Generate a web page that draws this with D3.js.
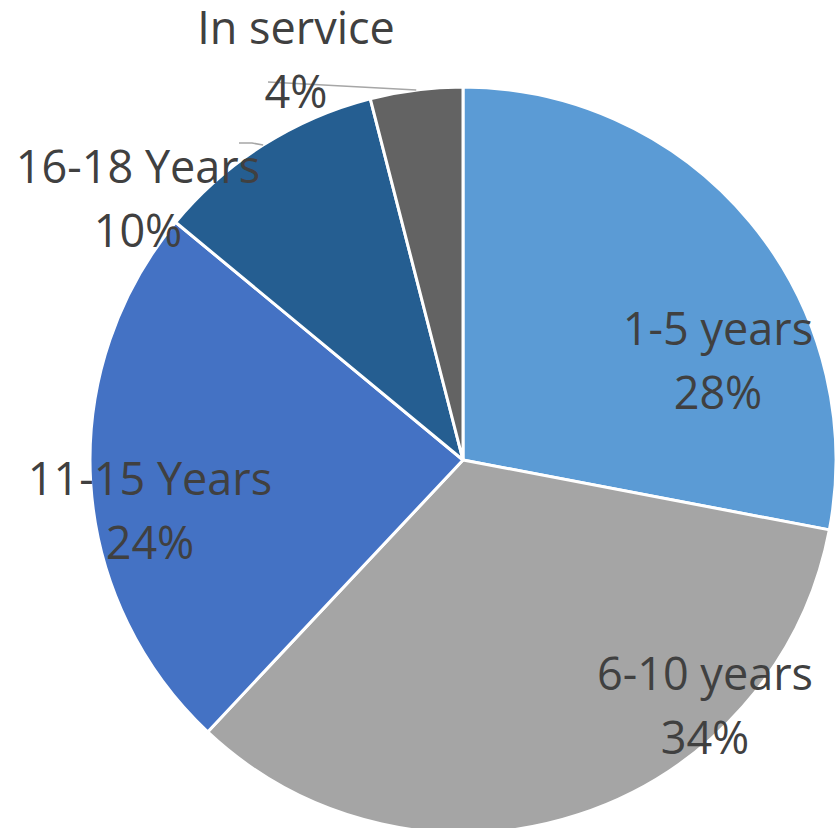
<!DOCTYPE html>
<html>
<head>
<meta charset="utf-8">
<script src="https://cdn.jsdelivr.net/npm/d3@7"></script>
<style>
  body { margin: 0; background: #fff; }
  text { font-family: "Open Sans", sans-serif; fill: #404040; }
</style>
</head>
<body>
<svg width="837" height="828"></svg>
<script>
// chart data
var categories = ["1-5 years", "6-10 years", "11-15 Years", "16-18 Years", "In service"];
var values = [28, 34, 24, 10, 4];
var colors = ["#5b9bd5", "#a5a5a5", "#4472c4", "#255e91", "#636363"];

// label layout (center x, first baseline y)
var labelPos = [[718, 345], [705, 690], [150, 495], [138, 183], [296, 44]];

function main(){
    var svg = d3.select("svg"),
        cx = 463, cy = 460, radius = 373;

    var data = categories.map(function(c, i){ return {name: c, value: values[i], color: colors[i]}; });

    var pie = d3.pie().sort(null).value(function(d){ return d.value; });
    var arc = d3.arc().innerRadius(0).outerRadius(radius);
    var arcs = pie(data);

    var g = svg.append("g").attr("transform", "translate(" + cx + "," + cy + ")");

    g.selectAll(".slice")
        .data(arcs)
        .enter()
        .append("path")
        .attr("class", "slice")
        .attr("d", arc)
        .attr("fill", function(d){ return d.data.color; })
        .attr("stroke", "#fff")
        .attr("stroke-width", 3)
        .attr("stroke-linejoin", "round");

    // leader lines for the two small slices
    function edgePoint(a){
        var m = (a.startAngle + a.endAngle) / 2;
        return [cx + radius * Math.sin(m), cy - radius * Math.cos(m)];
    }
    var leaders = [
        {idx: 4, pts: [[268, 82]]},
        {idx: 3, pts: [[239, 143], [252, 143]]}
    ];
    leaders.forEach(function(l){
        var p = l.pts.concat([edgePoint(arcs[l.idx])]);
        svg.append("polyline")
            .attr("points", p.map(function(q){ return q.join(","); }).join(" "))
            .attr("fill", "none")
            .attr("stroke", "#a6a6a6")
            .attr("stroke-width", 1.5);
    });

    var labels = svg.selectAll(".label")
        .data(arcs)
        .enter()
        .append("text")
        .attr("class", "label")
        .attr("text-anchor", "middle")
        .attr("font-size", "45px");

    labels.append("tspan")
        .attr("x", function(d, i){ return labelPos[i][0]; })
        .attr("y", function(d, i){ return labelPos[i][1]; })
        .text(function(d){ return d.data.name; });

    labels.append("tspan")
        .attr("x", function(d, i){ return labelPos[i][0]; })
        .attr("y", function(d, i){ return labelPos[i][1] + 64; })
        .text(function(d){ return d.data.value + "%"; });
}
main();
</script>
</body>
</html>
